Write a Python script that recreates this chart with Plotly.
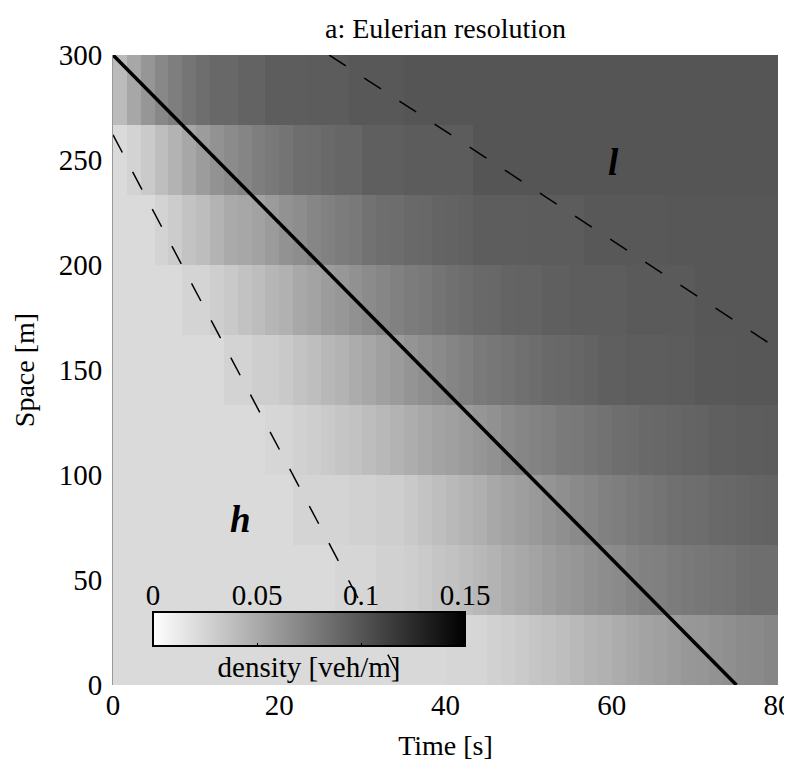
import plotly.graph_objects as go

# ~~~~~~~~~~~~~~~~~~~~~~~~~~~~~~~~~~~~~~~~~~~~~~~~~~~~~~~~~~~~~~~~~~~~~~~~~~~~~~
# Eulerian cells: 48 time steps of 5/3 s, 9 road cells of 33.3 m
dt = 80 / 48
dx = 300 / 9

# density [veh/m] per cell, one list per road cell (bottom to top)
rho_0_33 = [
    0.022, 0.022, 0.022, 0.022, 0.022, 0.022, 0.022, 0.022, 0.022, 0.022, 0.022, 0.022,
    0.022, 0.022, 0.022, 0.022, 0.022, 0.022, 0.022, 0.022, 0.023, 0.023, 0.023, 0.023,
    0.024, 0.024, 0.024, 0.027, 0.029, 0.031, 0.034, 0.036, 0.038, 0.041, 0.044, 0.046,
    0.049, 0.051, 0.054, 0.056, 0.058, 0.061, 0.062, 0.064, 0.066, 0.068, 0.069, 0.071]
rho_33_67 = [
    0.022, 0.022, 0.022, 0.022, 0.022, 0.022, 0.022, 0.022, 0.022, 0.022, 0.022, 0.022,
    0.022, 0.022, 0.022, 0.022, 0.024, 0.024, 0.024, 0.027, 0.027, 0.029, 0.031, 0.034,
    0.036, 0.039, 0.042, 0.045, 0.048, 0.051, 0.054, 0.057, 0.060, 0.062, 0.065, 0.067,
    0.069, 0.072, 0.074, 0.075, 0.077, 0.079, 0.080, 0.081, 0.082, 0.084, 0.085, 0.085]
rho_67_100 = [
    0.022, 0.022, 0.022, 0.022, 0.022, 0.022, 0.022, 0.022, 0.022, 0.022, 0.022, 0.022,
    0.022, 0.025, 0.025, 0.025, 0.025, 0.027, 0.027, 0.029, 0.029, 0.032, 0.035, 0.038,
    0.041, 0.044, 0.047, 0.051, 0.054, 0.057, 0.060, 0.063, 0.066, 0.069, 0.071, 0.074,
    0.076, 0.078, 0.080, 0.082, 0.084, 0.085, 0.086, 0.088, 0.089, 0.090, 0.091, 0.092]
rho_100_133 = [
    0.022, 0.022, 0.022, 0.022, 0.022, 0.022, 0.022, 0.022, 0.022, 0.022, 0.022, 0.024,
    0.024, 0.027, 0.029, 0.031, 0.034, 0.036, 0.039, 0.042, 0.045, 0.048, 0.051, 0.054,
    0.056, 0.059, 0.062, 0.065, 0.068, 0.071, 0.073, 0.075, 0.078, 0.079, 0.081, 0.083,
    0.085, 0.086, 0.088, 0.089, 0.090, 0.091, 0.092, 0.094, 0.094, 0.095, 0.095, 0.096]
rho_133_167 = [
    0.022, 0.022, 0.022, 0.022, 0.022, 0.022, 0.022, 0.022, 0.026, 0.026, 0.029, 0.029,
    0.032, 0.035, 0.038, 0.042, 0.045, 0.049, 0.052, 0.056, 0.059, 0.063, 0.066, 0.069,
    0.072, 0.075, 0.078, 0.080, 0.082, 0.084, 0.086, 0.088, 0.089, 0.090, 0.092, 0.094,
    0.094, 0.095, 0.095, 0.095, 0.096, 0.096, 0.098, 0.098, 0.098, 0.099, 0.099, 0.099]
rho_167_200 = [
    0.022, 0.022, 0.022, 0.022, 0.022, 0.025, 0.025, 0.029, 0.032, 0.036, 0.039, 0.043,
    0.046, 0.051, 0.054, 0.058, 0.061, 0.065, 0.068, 0.071, 0.074, 0.077, 0.079, 0.082,
    0.084, 0.086, 0.088, 0.089, 0.091, 0.092, 0.092, 0.094, 0.094, 0.095, 0.095, 0.095,
    0.095, 0.097, 0.097, 0.097, 0.097, 0.097, 0.099, 0.099, 0.099, 0.099, 0.099, 0.099]
rho_200_233 = [
    0.022, 0.022, 0.022, 0.026, 0.030, 0.035, 0.039, 0.045, 0.050, 0.052, 0.055, 0.059,
    0.064, 0.067, 0.071, 0.074, 0.077, 0.079, 0.083, 0.085, 0.086, 0.088, 0.089, 0.091,
    0.092, 0.093, 0.095, 0.095, 0.095, 0.095, 0.096, 0.096, 0.096, 0.096, 0.098, 0.098,
    0.098, 0.098, 0.098, 0.098, 0.099, 0.099, 0.099, 0.099, 0.099, 0.099, 0.099, 0.099]
rho_233_267 = [
    0.022, 0.026, 0.031, 0.038, 0.045, 0.052, 0.058, 0.064, 0.068, 0.072, 0.076, 0.079,
    0.082, 0.085, 0.086, 0.088, 0.090, 0.090, 0.094, 0.094, 0.094, 0.096, 0.096, 0.096,
    0.096, 0.096, 0.100, 0.100, 0.100, 0.100, 0.100, 0.100, 0.100, 0.100, 0.100, 0.100,
    0.100, 0.100, 0.100, 0.100, 0.100, 0.100, 0.100, 0.100, 0.100, 0.100, 0.100, 0.100]
rho_267_300 = [
    0.040, 0.052, 0.062, 0.070, 0.076, 0.081, 0.085, 0.089, 0.089, 0.092, 0.092, 0.095,
    0.095, 0.095, 0.096, 0.096, 0.096, 0.098, 0.098, 0.098, 0.098, 0.100, 0.100, 0.100,
    0.100, 0.100, 0.100, 0.100, 0.100, 0.100, 0.100, 0.100, 0.100, 0.100, 0.100, 0.100,
    0.100, 0.100, 0.100, 0.100, 0.100, 0.100, 0.100, 0.100, 0.100, 0.100, 0.100, 0.100]

density = [rho_0_33, rho_33_67, rho_67_100, rho_100_133, rho_133_167,
           rho_167_200, rho_200_233, rho_233_267, rho_267_300]

# shock and the two characteristics bounding the smeared transition
shock_t = [0, 75]
shock_x = [300, 0]
char_h_t = [0, 35]
char_h_x = [262, 0]
char_l_t = [26, 80]
char_l_x = [300, 160]

cbar_ticks = [0, 0.05, 0.1, 0.15]
cbar_labels = ["0", "0.05", "0.1", "0.15"]
x_ticks = [0, 20, 40, 60, 80]
y_ticks = [0, 50, 100, 150, 200, 250, 300]

# ~~~~~~~~~~~~~~~~~~~~~~~~~~~~~~~~~~~~~~~~~~~~~~~~~~~~~~~~~~~~~~~~~~~~~~~~~~~~~~
serif = "Liberation Serif"
W, H = 792, 766
# page is drawn with an 8 px body margin, so shift everything up/left by 8
off = 8
ml, mt = 113 - off, 55 - off
pw, ph = 665, 630
mr = W - ml - pw
mb = H - mt - ph

# colorbar box in screen pixels
cb_left, cb_right, cb_top, cb_bottom = 153, 465, 612, 650
cb_x0 = (cb_left - 113) / pw
cb_x1 = (cb_right - 113) / pw
cb_y0 = (685 - cb_bottom) / ph
cb_y1 = (685 - cb_top) / ph

fig = go.Figure()

fig.add_trace(go.Heatmap(
    z=density, x0=dt / 2, dx=dt, y0=dx / 2, dy=dx,
    zmin=0, zmax=0.15,
    colorscale=[[0, "white"], [1, "black"]],
    colorbar=dict(
        orientation="h",
        x=(cb_x0 + cb_x1) / 2, xanchor="center",
        y=cb_y1, yanchor="top",
        len=cb_x1 - cb_x0, lenmode="fraction",
        thickness=cb_bottom - cb_top - 4, thicknessmode="pixels",
        xpad=0, ypad=0,
        outlinewidth=2, outlinecolor="black",
        ticks="inside", tickvals=[0.05, 0.1], ticklen=4, tickcolor="black",
        tickfont=dict(size=1, color="rgba(0,0,0,0)"),
        title=dict(text="density [veh/m]", side="bottom",
                   font=dict(family=serif, size=29, color="black")),
    ),
    hoverinfo="skip",
))

dash = "20px,22px"
fig.add_trace(go.Scatter(x=char_h_t, y=char_h_x, mode="lines",
                         line=dict(color="black", width=1.5, dash=dash),
                         showlegend=False, hoverinfo="skip"))
fig.add_trace(go.Scatter(x=char_l_t, y=char_l_x, mode="lines",
                         line=dict(color="black", width=1.5, dash=dash),
                         showlegend=False, hoverinfo="skip"))
fig.add_trace(go.Scatter(x=shock_t, y=shock_x, mode="lines",
                         line=dict(color="black", width=3.5),
                         showlegend=False, hoverinfo="skip"))

# invisible point so the colorbar's label axis exists
fig.add_trace(go.Scatter(x=[0], y=[0], xaxis="x2", yaxis="y2", mode="markers",
                         marker=dict(size=1, opacity=0),
                         showlegend=False, hoverinfo="skip"))

# regime labels
fig.add_annotation(x=15.3, y=79, text="<b><i>h</i></b>", showarrow=False,
                   font=dict(family=serif, size=37, color="black"))
fig.add_annotation(x=60.2, y=249, text="<b><i>l</i></b>", showarrow=False,
                   font=dict(family=serif, size=37, color="black"))

fig.update_layout(
    width=W, height=H,
    margin=dict(l=ml, r=mr, t=mt, b=mb, autoexpand=False),
    paper_bgcolor="white",
    plot_bgcolor="rgba(0,0,0,0)",
    font=dict(family=serif, size=29, color="black"),
    title=dict(text="a: Eulerian resolution", x=0.5, xref="paper",
               y=1 - (28 - off) / H, yanchor="middle",
               font=dict(family=serif, size=28, color="black")),
    showlegend=False,
    xaxis=dict(range=[0, 80], tickvals=x_ticks, showgrid=False, zeroline=False,
               showline=False, ticks="", automargin=False,
               title=dict(text="Time [s]", font=dict(family=serif, size=28))),
    yaxis=dict(range=[0, 300], tickvals=y_ticks, showgrid=False, zeroline=False,
               showline=True, linecolor="#999999", linewidth=1, ticks="",
               automargin=False, ticklabelstandoff=4,
               title=dict(text="Space [m]", font=dict(family=serif, size=28))),
    xaxis2=dict(domain=[cb_x0, cb_x1], anchor="y2", side="top", range=[0, 0.15],
                tickvals=cbar_ticks, ticktext=cbar_labels, showgrid=False,
                zeroline=False, showline=False, ticks="", fixedrange=True,
                automargin=False),
    yaxis2=dict(domain=[cb_y0, cb_y1], anchor="x2", range=[0, 1], visible=False,
                fixedrange=True),
)

fig.write_html("out.html")
